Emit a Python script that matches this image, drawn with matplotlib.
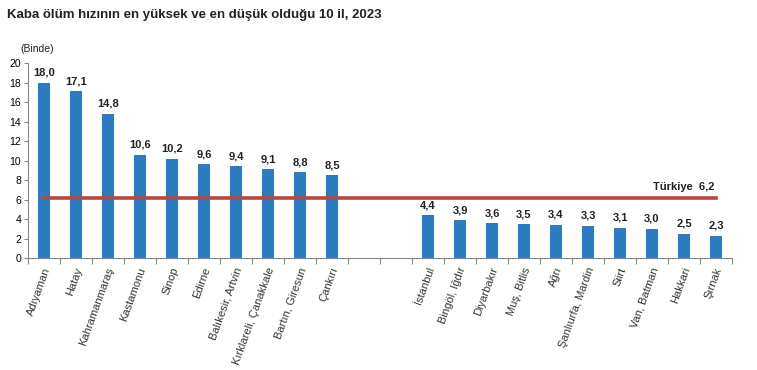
import matplotlib.pyplot as plt

high_names = ["Adıyaman", "Hatay", "Kahramanmaraş", "Kastamonu", "Sinop", "Edirne",
              "Balıkesir, Artvin", "Kırklareli, Çanakkale", "Bartın, Giresun", "Çankırı"]
high_vals = [18.0, 17.1, 14.8, 10.6, 10.2, 9.6, 9.4, 9.1, 8.8, 8.5]
low_names = ["İstanbul", "Bingöl, Iğdır", "Diyarbakır", "Muş, Bitlis", "Ağrı",
             "Şanlıurfa, Mardin", "Siirt", "Van, Batman", "Hakkari", "Şırnak"]
low_vals = [4.4, 3.9, 3.6, 3.5, 3.4, 3.3, 3.1, 3.0, 2.5, 2.3]
turkiye = 6.2

names = high_names + ["", ""] + low_names
vals = high_vals + [None, None] + low_vals

plt.rcParams['font.family'] = ['Liberation Sans', 'DejaVu Sans']

fig = plt.figure(figsize=(7.57, 3.70), dpi=100)
ax = fig.add_axes([0.037, 0.3027, 0.93, 0.527])

xs = [i for i, v in enumerate(vals) if v is not None]
hs = [v for v in vals if v is not None]
ax.bar(xs, hs, width=0.38, color="#2E7BC0", zorder=2)
for x, v in zip(xs, hs):
    ax.text(x, v + 0.5, f"{v:.1f}".replace(".", ","), ha="center", va="bottom",
            fontsize=8, fontweight="bold", color="#222222")

ax.plot([xs[0], xs[-1]], [turkiye, turkiye], color="#B8473D", lw=2.6, zorder=3)
ax.text(xs[-1] - 0.05, turkiye + 0.6, "Türkiye  " + f"{turkiye:.1f}".replace(".", ","),
        ha="right", va="bottom", fontsize=8, fontweight="bold", color="#222222")

ax.set_xlim(-0.5, len(vals) - 0.5)
ax.set_ylim(0, 20)
ax.set_yticks(range(0, 21, 2))
ax.tick_params(axis="y", labelsize=7.5, length=3, color="#888888", pad=2)
ax.set_xticks([i - 0.5 for i in range(len(vals) + 1)], minor=False)
ax.set_xticklabels([])
ax.tick_params(axis="x", length=4, color="#888888", direction="out")
for i, n in enumerate(names):
    if n:
        ax.text(i - 0.05, -0.8, n, rotation=70, ha="right", va="top",
                rotation_mode="anchor", fontsize=8, color="#333333",
                transform=ax.transData)

for s in ["top", "right"]:
    ax.spines[s].set_visible(False)
ax.spines["left"].set_color("#888888")
ax.spines["bottom"].set_color("#888888")

fig.text(0.009, 0.975, "Kaba ölüm hızının en yüksek ve en düşük olduğu 10 il, 2023",
         ha="left", va="top", fontsize=9.5, fontweight="bold", color="#222222")
fig.text(0.027, 0.855, "(Binde)", ha="left", va="bottom", fontsize=7.5, color="#222222")

fig.savefig("out.png", dpi=100)
